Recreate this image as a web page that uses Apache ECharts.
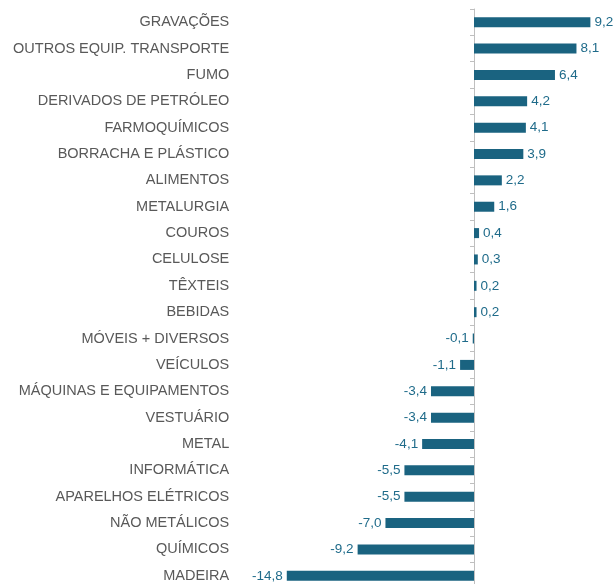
<!DOCTYPE html>
<html>
<head>
<meta charset="utf-8">
<script src="https://cdn.jsdelivr.net/npm/echarts@6/dist/echarts.min.js"></script>
<style>html,body{margin:0;padding:0;background:#fff;overflow:hidden}#c{width:614px;height:590px}</style>
</head>
<body>
<div id="c"></div>
<script>
const categories = ["GRAVAÇÕES","OUTROS EQUIP. TRANSPORTE","FUMO","DERIVADOS DE PETRÓLEO","FARMOQUÍMICOS","BORRACHA E PLÁSTICO","ALIMENTOS","METALURGIA","COUROS","CELULOSE","TÊXTEIS","BEBIDAS","MÓVEIS + DIVERSOS","VEÍCULOS","MÁQUINAS E EQUIPAMENTOS","VESTUÁRIO","METAL","INFORMÁTICA","APARELHOS ELÉTRICOS","NÃO METÁLICOS","QUÍMICOS","MADEIRA"];
const values = [9.2,8.1,6.4,4.2,4.1,3.9,2.2,1.6,0.4,0.3,0.2,0.2,-0.1,-1.1,-3.4,-3.4,-4.1,-5.5,-5.5,-7.0,-9.2,-14.8];

const chart = echarts.init(document.getElementById('c'));
const fmt = v => v.toFixed(1).replace('.', ',');
chart.setOption({
  animation: false,
  grid: { left: 284.25, right: 13.5, top: 9, bottom: 1, containLabel: false },
  xAxis: { type: 'value', min: -15, max: 10, show: false },
  yAxis: [
    { type: 'category', data: categories, inverse: true,
      axisLine: { show: true, onZero: true, lineStyle: { color: '#BFBFBF', width: 1 } },
      axisTick: { show: true, length: 4, lineStyle: { color: '#BFBFBF' } },
      axisLabel: { show: false }, splitLine: { show: false } },
    { type: 'category', data: categories, inverse: true, position: 'left',
      axisLine: { show: false, onZero: false }, axisTick: { show: false },
      axisLabel: { show: true, margin: 55, color: '#595959', fontSize: 14.5, fontFamily: 'Liberation Sans' },
      splitLine: { show: false } }
  ],
  series: [{
    type: 'bar', yAxisIndex: 0, barWidth: 10,
    itemStyle: { color: '#1A6380' },
    data: values.map(v => ({ value: v, label: { position: v < 0 ? 'left' : 'right' } })),
    label: { show: true, distance: 4, color: '#1F6B8A', fontSize: 13.5, fontFamily: 'Liberation Sans',
      formatter: p => fmt(p.value) }
  }]
});
</script>
</body>
</html>
